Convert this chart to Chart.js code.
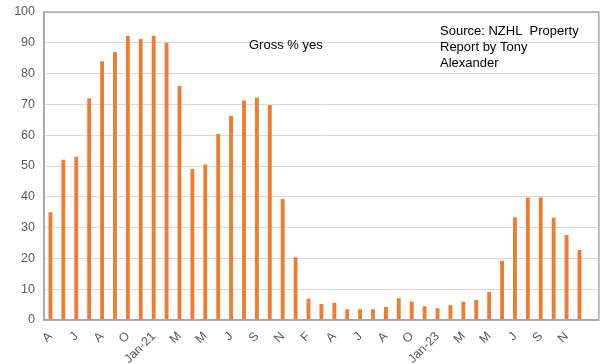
<!DOCTYPE html>
<html>
<head>
<meta charset="utf-8">
<script src="https://cdn.jsdelivr.net/npm/chart.js@4/dist/chart.umd.min.js"></script>
<style>
  html, body { margin: 0; padding: 0; background: #fff; }
  #wrap { width: 604px; height: 364px; }
</style>
</head>
<body>
<div id="wrap"><canvas id="c" width="604" height="364"></canvas></div>
<script>
// Tick labels shown on every other month
const tickLabels = ['A', 'J', 'A', 'O', 'Jan-21', 'M', 'M', 'J', 'S', 'N', 'F',
                    'A', 'J', 'A', 'O', 'Jan-23', 'M', 'M', 'J', 'S', 'N'];

// Gross % of respondents answering yes
const grossYes = [35, 52, 53, 72, 84, 87, 92.3, 91.2, 92.3, 90,
                  76, 49, 50.5, 60.4, 66.3, 71.3, 72.2, 69.8, 39.3, 20.4,
                  7, 5.2, 5.6, 3.5, 3.5, 3.5, 4.2, 7.1, 6, 4.5,
                  3.8, 4.8, 5.9, 6.5, 9.1, 19.2, 33.4, 39.8, 39.8, 33.2,
                  27.6, 22.7, null];

const yTicks = [0, 10, 20, 30, 40, 50, 60, 70, 80, 90, 100];

// one category per survey, labelled on alternate months
const categories = grossYes.map((v, i) => (i % 2 === 0 && tickLabels[i / 2]) ? tickLabels[i / 2] : '');

const FONT = '"Liberation Sans", Arial, sans-serif';

const frame = {
  id: 'frame',
  afterDatasetsDraw(chart) {
    const a = chart.chartArea, ctx = chart.ctx;
    ctx.save();
    ctx.strokeStyle = '#a6a6a6';
    ctx.lineWidth = 1.5;
    ctx.strokeRect(a.left, a.top, a.right - a.left, a.bottom - a.top);
    ctx.fillStyle = '#000';
    ctx.font = '13px ' + FONT;
    ctx.textBaseline = 'middle';
    ctx.textAlign = 'left';
    ctx.fillText('Gross % yes', 249, 45);
    ctx.fillText('Source: NZHL  Property', 440, 31);
    ctx.fillText('Report by Tony', 440, 47);
    ctx.fillText('Alexander', 440, 63);
    ctx.restore();
  }
};

new Chart(document.getElementById('c'), {
  type: 'bar',
  data: {
    labels: categories,
    datasets: [{
      data: grossYes,
      backgroundColor: '#ED7D31',
      borderWidth: 0,
      barPercentage: 0.6,
      categoryPercentage: 0.5
    }]
  },
  options: {
    responsive: false,
    animation: false,
    layout: { padding: { top: 12, right: 2, left: 0, bottom: 0 } },
    plugins: { legend: { display: false }, tooltip: { enabled: false } },
    scales: {
      x: {
        grid: { display: false },
        border: { display: true, color: '#a6a6a6', width: 1.5 },
        ticks: {
          autoSkip: false,
          minRotation: 45,
          maxRotation: 45,
          color: '#595959',
          font: { family: FONT, size: 12.5 },
          padding: 1
        },
        afterFit(s) { s.height = 44; }
      },
      y: {
        min: 0,
        max: 100,
        afterBuildTicks(s) { s.ticks = yTicks.map(v => ({ value: v })); },
        grid: { color: '#d9d9d9', lineWidth: 1, drawTicks: false },
        border: { display: true, color: '#a6a6a6', width: 1.5 },
        ticks: {
          color: '#595959',
          font: { family: FONT, size: 12.5 },
          padding: 9
        },
        afterFit(s) { s.width = 44; s.paddingTop = 4; s.paddingBottom = 4; }
      }
    }
  },
  plugins: [frame]
});
</script>
</body>
</html>
